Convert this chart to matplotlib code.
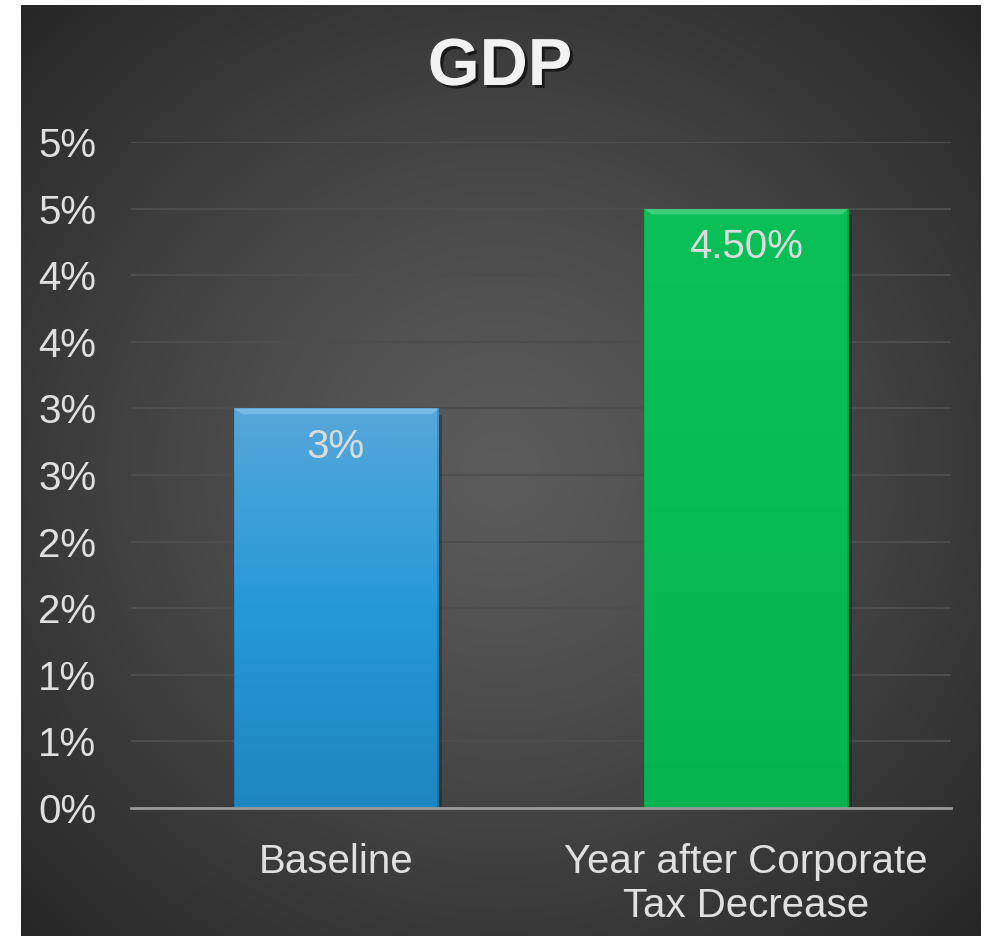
import numpy as np
import matplotlib.pyplot as plt
import matplotlib.patheffects as pe
from matplotlib.colors import LinearSegmentedColormap

categories = ["Baseline", "Year after Corporate\nTax Decrease"]
values = [0.03, 0.045]
value_labels = ["3%", "4.50%"]
yticks = [0, 0.005, 0.01, 0.015, 0.02, 0.025, 0.03, 0.035, 0.04, 0.045, 0.05]
ytick_labels = ["0%", "1%", "1%", "2%", "2%", "3%", "3%", "4%", "4%", "5%", "5%"]

plt.rcParams['font.family'] = ['Liberation Sans', 'DejaVu Sans']

fig = plt.figure(figsize=(9.9, 9.36), dpi=100)
fig.patch.set_facecolor("white")

# dark panel with a radial glow in the middle
bg = fig.add_axes([21 / 990, 0, 960 / 990, 931 / 936])
bg.set_axis_off()
yy, xx = np.mgrid[0:1:400j, 0:1:400j]
r = np.sqrt((xx - 0.5) ** 2 + (yy - 0.5) ** 2) / 0.71
shade = 0.36 - 0.21 * np.clip(r, 0, 1) ** 1.2
bg.imshow(np.dstack([shade] * 3), extent=[0, 1, 0, 1], aspect="auto")

ax = fig.add_axes([131 / 990, 128 / 936, 820 / 990, 666 / 936])
ax.patch.set_alpha(0)
x = np.arange(len(categories))
bars = ax.bar(x, values, width=0.5, color=["#2a9ad6", "#07bb55"], zorder=3)

grads = [
    LinearSegmentedColormap.from_list("b", ["#1d86c0", "#2599d8", "#56a7da"]),
    LinearSegmentedColormap.from_list("g", ["#05b451", "#07bb55", "#0bbf59"]),
]
for bar, cmap in zip(bars, grads):
    x0, w, h = bar.get_x(), bar.get_width(), bar.get_height()
    grad = np.linspace(0, 1, 256).reshape(-1, 1)
    im = ax.imshow(grad, cmap=cmap, origin="lower", aspect="auto",
                   extent=[x0, x0 + w, 0, h], zorder=3)
    im.set_clip_path(bar)
    # bevelled top edge and darker sides
    ax.fill_between([x0, x0 + 0.02, x0 + w - 0.02, x0 + w],
                    [h, h - 0.0004, h - 0.0004, h], h,
                    color="white", alpha=0.22, zorder=4, lw=0)
    ax.fill_between([x0 + w - 0.004, x0 + w], 0, h, color="black", alpha=0.15, zorder=4, lw=0)
    ax.fill_between([x0, x0 + 0.004], 0, h, color="black", alpha=0.08, zorder=4, lw=0)
    # drop shadow
    ax.fill_between([x0 + 0.008, x0 + w + 0.008], 0, h - 0.0005, color="black", alpha=0.25, zorder=2, lw=0)

for i, (v, lab) in enumerate(zip(values, value_labels)):
    ax.annotate(lab, (x[i], v), xytext=(0, -14), textcoords="offset points",
                ha="center", va="top", fontsize=29, color="#dcdcdc", zorder=5)

ax.set_xlim(-0.5, len(categories) - 0.5)
ax.set_ylim(0, 0.05)
ax.set_yticks(yticks)
ax.set_yticklabels(ytick_labels)
ax.set_xticks(x)
ax.set_xticklabels(categories, linespacing=1.2)
ax.tick_params(axis="y", length=0, pad=25, labelsize=29, labelcolor="#e0e0e0")
ax.tick_params(axis="x", length=0, pad=25, labelsize=29, labelcolor="#e0e0e0")
ax.grid(axis="y", color="#4d4d4d", lw=1.5, zorder=1)
for s in ["top", "right", "left"]:
    ax.spines[s].set_visible(False)
ax.spines["bottom"].set_color("#9a9a9a")
ax.spines["bottom"].set_linewidth(2)
ax.spines["bottom"].set_zorder(6)

fig.text(500 / 990, 1 - 68 / 936, "GDP", ha="center", va="center", fontsize=48,
         fontweight="bold", color="#f2f2f2",
         path_effects=[pe.SimplePatchShadow(offset=(2, -2), shadow_rgbFace="black", alpha=0.6), pe.Normal()])

fig.savefig("out.png", dpi=100)
